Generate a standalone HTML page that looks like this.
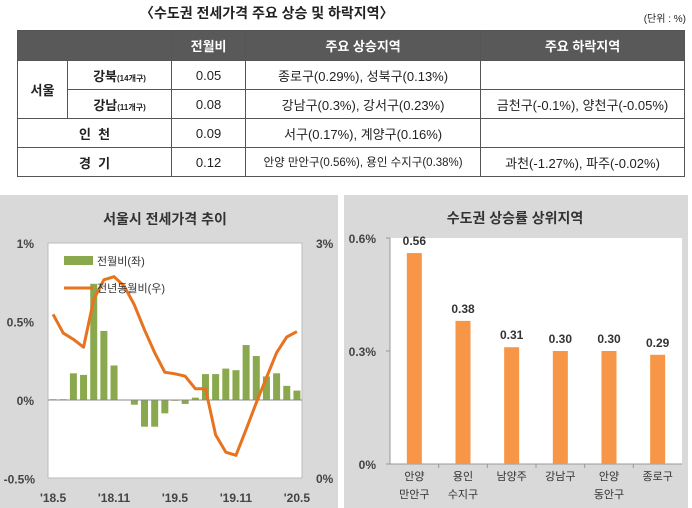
<!DOCTYPE html>
<html><head><meta charset="utf-8"><style>
body{margin:0;width:692px;height:508px;background:#fff;font-family:"Liberation Sans","Noto Sans CJK KR",sans-serif;position:relative;overflow:hidden}
.abs{position:absolute}
table{border-collapse:collapse;position:absolute;left:17px;top:30px;width:668px;font-size:13px;color:#222}
td,th{border:1px solid #555;text-align:center;padding:0;height:28px}
th{background:#595959;color:#fff;font-weight:bold;height:29px}
small{font-size:8px}
</style></head><body>
<div class="abs" style="left:140px;top:3px;font-size:14px;font-weight:bold;color:#222">〈수도권 전세가격 주요 상승 및 하락지역〉</div>
<div class="abs" style="right:6px;top:14px;font-size:10px;line-height:12px;color:#222">(단위 : %)</div>
<table>
<tr><th colspan="2" style="width:137px"></th><th style="width:73px">전월비</th><th style="width:234px">주요 상승지역</th><th>주요 하락지역</th></tr>
<tr><td rowspan="2" style="width:49px;font-weight:bold;border-bottom:1px solid #555">서울</td><td style="font-weight:bold">강북<small>(14개구)</small></td><td>0.05</td><td>종로구(0.29%), 성북구(0.13%)</td><td></td></tr>
<tr><td style="font-weight:bold">강남<small>(11개구)</small></td><td>0.08</td><td>강남구(0.3%), 강서구(0.23%)</td><td>금천구(-0.1%), 양천구(-0.05%)</td></tr>
<tr><td colspan="2" style="font-weight:bold">인 &nbsp;천</td><td>0.09</td><td>서구(0.17%), 계양구(0.16%)</td><td></td></tr>
<tr><td colspan="2" style="font-weight:bold">경 &nbsp;기</td><td>0.12</td><td style="font-size:11.5px">안양 만안구(0.56%), 용인 수지구(0.38%)</td><td>과천(-1.27%), 파주(-0.02%)</td></tr>
</table>

<svg class="abs" style="left:0;top:0" width="692" height="508">
<rect x="0" y="195" width="338" height="313" fill="#d9d9d9"/>
<rect x="344" y="195" width="344" height="313" fill="#d9d9d9"/>
<g id="left"></g>
<g id="right"></g>
</svg>
<script>
const months=["'18.5","","","","","","'18.11","","","","","","'19.5","","","","","","'19.11","","","","","","'20.5"];
const momValues=[0.005,0.005,0.17,0.16,0.74,0.44,0.22,0.0,-0.03,-0.17,-0.17,-0.085,-0.005,-0.025,0.015,0.165,0.165,0.2,0.19,0.35,0.28,0.15,0.17,0.09,0.06];
const yoyValues=[2.09,1.85,1.77,1.67,2.28,2.53,2.57,2.45,2.21,1.89,1.6,1.35,1.33,1.3,1.14,1.14,0.55,0.33,0.29,0.62,0.96,1.28,1.6,1.8,1.87];
const leftTicks=[1,0.5,0,-0.5];
const leftTickLabels=["1%","0.5%","0%","-0.5%"];
const rightTickLabels=["3%","0%"];
const regions=[["안양","만안구"],["용인","수지구"],["남양주"],["강남구"],["안양","동안구"],["종로구"]];
const riseValues=[0.56,0.38,0.31,0.30,0.30,0.29];
const riseTicks=[0.6,0.3,0];
const riseTickLabels=["0.6%","0.3%","0%"];
const NS="http://www.w3.org/2000/svg";
function mk(p,t,a,txt){const e=document.createElementNS(NS,t);for(const k in a)e.setAttribute(k,a[k]);if(txt!==undefined)e.textContent=txt;p.appendChild(e);return e;}
const F='"Liberation Sans","Noto Sans CJK KR",sans-serif';
// left chart
const L=document.getElementById('left');
const lx0=48,lx1=302,ly0=243,ly1=478;
const yL=v=>400-(v)*157;
const yR=v=>478-v*(235/3);
const step=(lx1-lx0)/months.length;
const xM=i=>lx0+step*(i+0.5);
let t=mk(L,'text',{x:165,y:224,'text-anchor':'middle','font-size':14,'font-weight':'bold',fill:'#333','font-family':F},'서울시 전세가격 추이');

let r=mk(L,'rect',{x:lx0,y:ly0,width:lx1-lx0,height:ly1-ly0,fill:'#fff',stroke:'#bbb'});

leftTicks.forEach((v,i)=>{const e=mk(L,'text',{x:v<0?35:34,y:yL(v)+5,'text-anchor':'end','font-size':12,'font-weight':'bold',fill:'#444','font-family':F},leftTickLabels[i]);
});
rightTickLabels.forEach((s,i)=>{const e=mk(L,'text',{x:316,y:(i?ly1:ly0)+5,'font-size':12,'font-weight':'bold',fill:'#444','font-family':F},s);
});
momValues.forEach((v,i)=>{const y=Math.min(yL(v),yL(0));const b=mk(L,'rect',{x:xM(i)-3.5,y:y,width:7,height:Math.abs(yL(v)-yL(0)),fill:'#8aa84e'});
});
let z=mk(L,'line',{x1:lx0,x2:lx1,y1:yL(0),y2:yL(0),stroke:'#888'});

let pl=mk(L,'polyline',{points:yoyValues.map((v,i)=>xM(i)+','+yR(v)).join(' '),fill:'none',stroke:'#e8731e','stroke-width':3,'stroke-linejoin':'round'});

months.forEach((m,i)=>{if(!m)return;const e=mk(L,'text',{x:xM(i),y:502,'text-anchor':'middle','font-size':12,'font-weight':'bold',fill:'#444','font-family':F},m);
});
let lg1=mk(L,'rect',{x:64,y:256,width:29,height:9,fill:'#8aa84e'});
let lt1=mk(L,'text',{x:97,y:265,'font-size':11,fill:'#333','font-family':F},'전월비(좌)');
let lg2=mk(L,'line',{x1:64,x2:93,y1:288,y2:288,stroke:'#e8731e','stroke-width':3});
let lt2=mk(L,'text',{x:97,y:292,'font-size':11,fill:'#333','font-family':F},'전년동월비(우)');
// right chart
const R=document.getElementById('right');
const rx0=390,rx1=682,ry0=238,ry1=464;
const yB=v=>ry1-v/0.6*(ry1-ry0);
const bs=(rx1-rx0)/regions.length;
const xB=i=>rx0+bs*(i+0.5);
t=mk(R,'text',{x:515,y:223,'text-anchor':'middle','font-size':14,'font-weight':'bold',fill:'#333','font-family':F},'수도권 상승률 상위지역');

r=mk(R,'rect',{x:rx0,y:ry0,width:rx1-rx0,height:ry1-ry0,fill:'#fff'});

mk(R,'polyline',{points:`${rx0},${ry0} ${rx0},${ry1} ${rx1},${ry1}`,fill:'none',stroke:'#999'});
riseTicks.forEach((v,i)=>{const e=mk(R,'text',{x:376,y:yB(v)+5,'text-anchor':'end','font-size':12,'font-weight':'bold',fill:'#444','font-family':F},riseTickLabels[i]);

mk(R,'line',{x1:rx0-4,x2:rx0,y1:yB(v),y2:yB(v),stroke:'#999'});});
riseValues.forEach((v,i)=>{const b=mk(R,'rect',{x:xB(i)-7.5,y:yB(v),width:15,height:yB(0)-yB(v),fill:'#f79646'});

const l=mk(R,'text',{x:xB(i),y:yB(v)-8,'text-anchor':'middle','font-size':12,'font-weight':'bold',fill:'#333','font-family':F},v.toFixed(2));

regions[i].forEach((s,j)=>{const e=mk(R,'text',{x:xB(i),y:480+j*18,'text-anchor':'middle','font-size':11,fill:'#333','font-family':F},s);
});
if(i>0)mk(R,'line',{x1:rx0+bs*i,x2:rx0+bs*i,y1:ry1,y2:ry1+4,stroke:'#999'});});
</script>
</body></html>
